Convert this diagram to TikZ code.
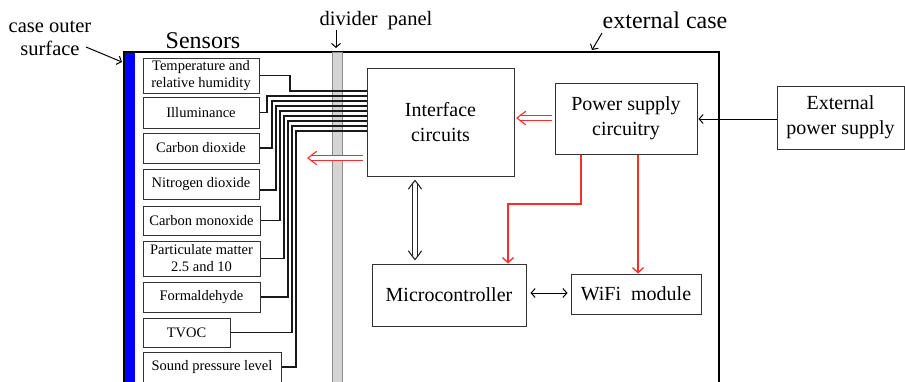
\documentclass[tikz,border=0pt]{standalone}
\usepackage{fontspec}
\setmainfont{Liberation Serif}
\usetikzlibrary{arrows.meta}
\definecolor{rd}{RGB}{250,45,45}
\definecolor{panelgray}{RGB}{212,212,212}
\begin{document}
\begin{tikzpicture}[x=1pt,y=-1pt,
  box/.style={draw=black!80, line width=1pt, fill=white, inner sep=0pt, align=center, font=\fontsize{20}{25}\selectfont},
  sbox/.style={draw=black!80, line width=1pt, fill=white, inner sep=0pt, align=center, font=\fontsize{14.5}{17}\selectfont},
  lbl/.style={inner sep=0pt, align=center, font=\fontsize{20.5}{23}\selectfont},
  wire/.style={line width=1.3pt, black!90},
  arr/.style={line width=1pt, -{Straight Barb[length=4pt,width=9pt]}},
  biarr/.style={line width=1pt, {Straight Barb[length=4pt,width=9pt]}-{Straight Barb[length=4pt,width=9pt]}},
  rarr/.style={line width=1.3pt, draw=rd, -{Straight Barb[length=5pt,width=11pt]}},
  rdouble/.style={draw=rd, double=white, double distance=3.5pt, line width=1.1pt},
  bdouble/.style={draw=black!85, double=white, double distance=3.5pt, line width=1pt},
  pics/chev/.style={code={\draw[line width=1.1pt, line cap=round, pic actions] (8.5,-6.5) .. controls (3,-2.5) .. (0,0) .. controls (3,2.5) .. (8.5,6.5);}}
]
\useasboundingbox (0,0) rectangle (905,381);
\clip (0,0) rectangle (905,381);

% case and divider
\fill[blue] (124,52) rectangle (135,390);
\draw[line width=1.8pt] (124,390) -- (124,52) -- (719,52) -- (719,390);
\filldraw[fill=panelgray, draw=black!45, line width=0.8pt] (332,52) rectangle (342,390);

% labels
\node[lbl] (caseLbl) at (50,38) {case outer\\surface};
\coordinate (caseTail) at (86,47);
\coordinate (caseTip) at (122,62);
\draw[arr] (caseTail) -- (caseTip);
\node[inner sep=0pt, anchor=base, font=\fontsize{24}{28}\selectfont] (sensLbl) at (203,48) {Sensors};
\node[lbl, anchor=base] (divLbl) at (376,25) {divider\ \ panel};
\coordinate (divTail) at (336,30);
\coordinate (divTip) at (336,48);
\draw[arr] (divTail) -- (divTip);
\node[inner sep=0pt, anchor=base, font=\fontsize{24}{28}\selectfont] (extLbl) at (665,28) {external case};
\coordinate (extTail) at (602,33);
\coordinate (extTip) at (592,50);
\draw[arr] (extTail) -- (extTip);

% sensors
\node[sbox, minimum width=116, minimum height=35] (temp) at (201,75.5) {Temperature and\\relative humidity};
\node[sbox, minimum width=116, minimum height=31] (illum) at (201,112.5) {Illuminance};
\node[sbox, minimum width=116, minimum height=30] (co2) at (201,148) {Carbon dioxide};
\node[sbox, minimum width=116, minimum height=30] (no2) at (201,184) {Nitrogen dioxide};
\node[sbox, minimum width=117, minimum height=29] (co) at (201.5,220.5) {Carbon monoxide};
\node[sbox, minimum width=117, minimum height=35] (pm) at (201.5,258.5) {Particulate matter\\2.5 and 10};
\node[sbox, minimum width=117, minimum height=30] (form) at (201.5,297) {Formaldehyde};
\node[sbox, minimum width=87, minimum height=29] (tvoc) at (186.5,332.5) {TVOC};
\node[sbox, minimum width=138, minimum height=30] (sound) at (212,367) {Sound pressure level};

% main boxes
\node[box, minimum width=147, minimum height=108] (iface) at (440.5,122) {Interface\\circuits};
\node[box, minimum width=142, minimum height=71] (power) at (626,118.5) {Power supply\\circuitry};
\node[box, minimum width=127, minimum height=63] (ext) at (840.5,117.5) {External\\power supply};
\node[box, minimum width=154, minimum height=62] (micro) at (449,295) {Microcontroller};
\node[box, minimum width=130, minimum height=40] (wifi) at (636,294) {WiFi\ \ module};

% sensor wires
\draw[wire] (temp.east) -| (290,91) -- (iface.west |- 0,91);
\draw[wire] (illum.east) -| (267,96) -- (iface.west |- 0,96);
\draw[wire] (co2.east) -| (272,101) -- (iface.west |- 0,101);
\draw[wire] ([yshift=-6pt]no2.east) -| (276,106) -- (iface.west |- 0,106);
\draw[wire] (co.east) -| (280,111) -- (iface.west |- 0,111);
\draw[wire] (pm.east) -| (284,116) -- (iface.west |- 0,116);
\draw[wire] (form.east) -| (288,121) -- (iface.west |- 0,121);
\draw[wire] (tvoc.east) -| (292,126) -- (iface.west |- 0,126);
\draw[wire] (sound.east) -| (296,131) -- (iface.west |- 0,131);

% double arrows (shaft + chevron tip)
\coordinate (redTip) at (308,158);
\draw[rdouble, shorten <=4pt, shorten >=2.5pt] (iface.west |- redTip) -- (redTip);
\pic[draw=rd] at (redTip) {chev};
\coordinate (ifTip) at ([xshift=2.5pt]iface.east |- 0,118);
\draw[rdouble, shorten <=3pt, shorten >=2.5pt] (power.west |- 0,118) -- (ifTip);
\pic[draw=rd] at (ifTip) {chev};
\coordinate (upTip) at ([yshift=-4pt]iface.south -| 415,0);
\coordinate (dnTip) at ([yshift=4pt]micro.north -| 415,0);
\draw[bdouble, shorten <=2.5pt, shorten >=2.5pt] (upTip) -- (dnTip);
\pic[draw=black!85, rotate=-90] at (upTip) {chev};
\pic[draw=black!85, rotate=90] at (dnTip) {chev};

% single arrows
\draw[arr, shorten >=1pt] (ext.west |- 0,119) -- (power.east |- 0,119);
\draw[rarr] (power.south -| 581,0) |- (508,204) -- (micro.north -| 508,0);
\draw[rarr] (power.south -| 638,0) -- (wifi.north -| 638,0);
\draw[biarr, shorten <=4pt, shorten >=3pt] (micro.east |- 0,293) -- (wifi.west |- 0,293);
\end{tikzpicture}
\end{document}
